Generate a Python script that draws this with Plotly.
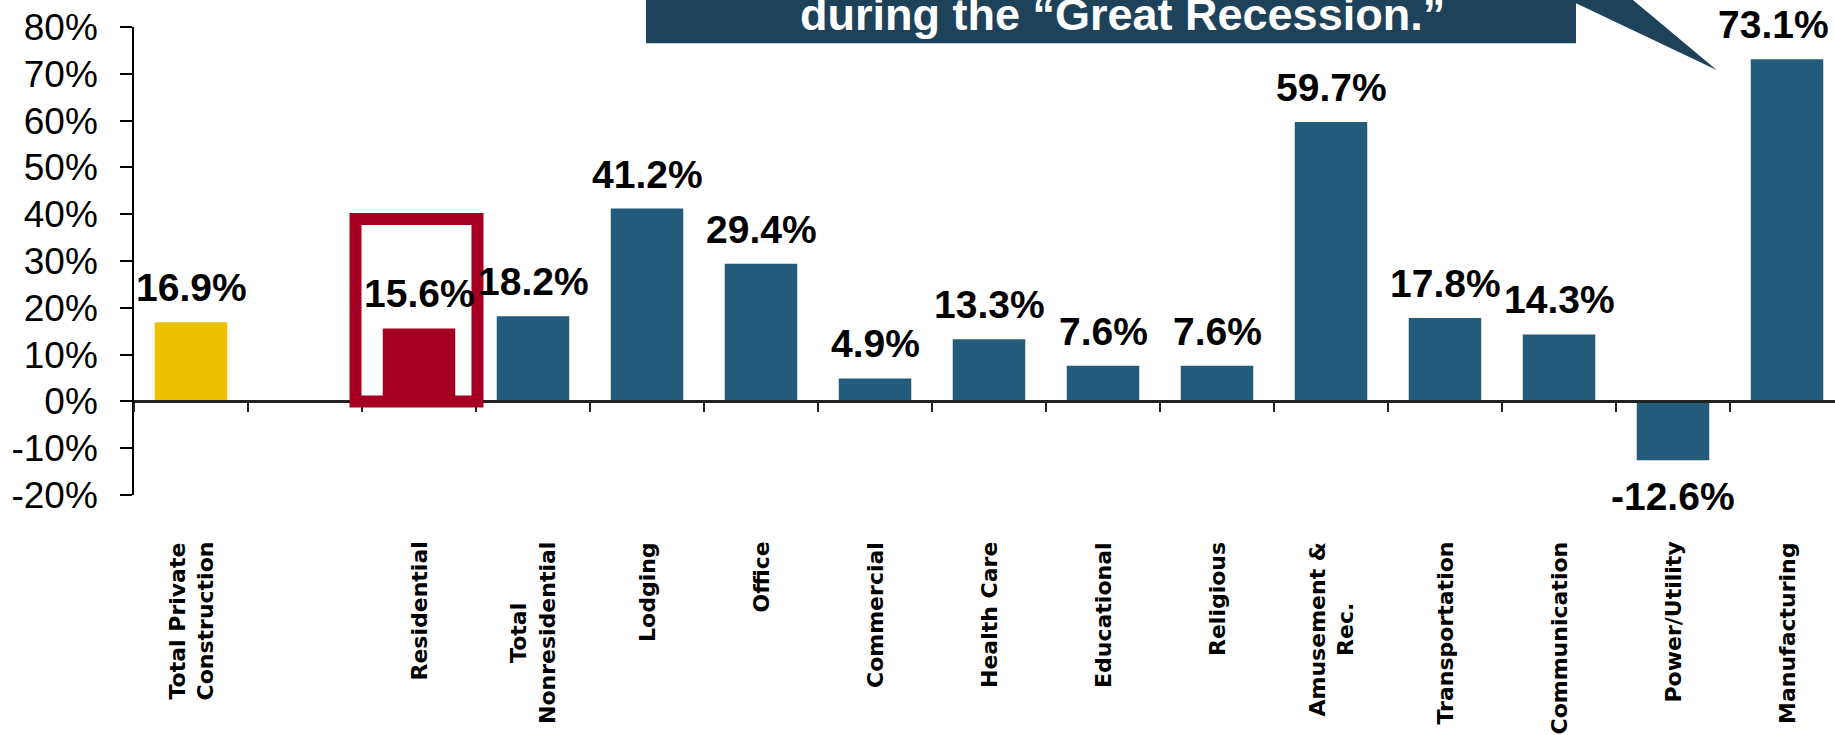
import plotly.graph_objects as go

# ── Data ──────────────────────────────────────────────────────────────────
categories = [
    "Total Private Construction", " ", "Residential", "Total Nonresidential",
    "Lodging", "Office", "Commercial", "Health Care", "Educational",
    "Religious", "Amusement & Rec.", "Transportation", "Communication",
    "Power/Utility", "Manufacturing",
]
category_labels = [
    "Total Private<br>Construction", "", "Residential", "Total<br>Nonresidential",
    "Lodging", "Office", "Commercial", "Health Care", "Educational",
    "Religious", "Amusement &<br>Rec.", "Transportation", "Communication",
    "Power/Utility", "Manufacturing",
]
pct_change = [16.9, None, 15.6, 18.2, 41.2, 29.4, 4.9, 13.3, 7.6, 7.6,
              59.7, 17.8, 14.3, -12.6, 73.1]
y_ticks = [-20, -10, 0, 10, 20, 30, 40, 50, 60, 70, 80]
callout_text = "during the \u201cGreat Recession.\u201d"

# ── Styles ────────────────────────────────────────────────────────────────
BLUE, GOLD, RED, NAVY = "#235B7A", "#EBC100", "#A50021", "#1E4259"
HIGHLIGHT = {"Total Private Construction": GOLD, "Residential": RED}
bar_colors = [HIGHLIGHT.get(c, BLUE) for c in categories]

W, H = 1835, 735
M_L, M_R, M_T, M_B = 134, 0, 27, 240
PLOT_W, PLOT_H = W - M_L - M_R, H - M_T - M_B
SLOT_PX = 114.0


def px_x(x):
    """pixel x -> paper x"""
    return (x - M_L) / PLOT_W


def px_y(y):
    """pixel y -> paper y"""
    return (H - M_B - y) / PLOT_H


fig = go.Figure(go.Bar(
    x=categories, y=pct_change,
    marker=dict(color=bar_colors, line_width=0),
    width=0.636, hoverinfo="x+y",
))

# value labels (the last one is nudged left so it stays on the slide)
for cat, val in zip(categories, pct_change):
    if val is None:
        continue
    fig.add_annotation(
        x=cat, y=val, xref="x", yref="y", text=f"{val:.1f}%", showarrow=False,
        yanchor="bottom" if val >= 0 else "top", yshift=11 if val >= 0 else -13,
        xshift=-14 if cat == categories[-1] else 0,
        font=dict(family="Liberation Sans, Arial", size=39, color="black",
                  weight="bold"),
    )

# rotated category labels under the chart
for cat, lab in zip(categories, category_labels):
    if not lab:
        continue
    fig.add_annotation(
        x=cat, y=px_y(540), xref="x", yref="paper", text=lab, showarrow=False,
        textangle=-90, yanchor="top", xanchor="center", align="center",
        font=dict(family="DejaVu Sans", size=22, color="black", weight="bold"),
    )

# red highlight frame around Residential
res_i = categories.index("Residential")
fig.add_shape(
    type="rect", xref="x", yref="y", layer="above",
    x0=res_i - 0.557, x1=res_i + 0.513, y0=0, y1=39,
    line=dict(color=RED, width=12), fillcolor="rgba(0,0,0,0)",
)

# callout box (partly cut off at the top of the slide)
rect = [(646, -20), (1576, -20), (1576, 43.3), (646, 43.3)]
tail = [(1527, -20), (1609, -20), (1716.7, 70)]
for poly in (rect, tail):
    path = "M " + " L ".join(f"{px_x(x):.5f},{px_y(y):.5f}" for x, y in poly) + " Z"
    fig.add_shape(type="path", xref="paper", yref="paper", path=path,
                  fillcolor=NAVY, line_width=0, layer="above")
fig.add_annotation(
    x=px_x(1122), y=px_y(42), xref="paper", yref="paper", text=callout_text,
    showarrow=False, xanchor="center", yanchor="bottom",
    font=dict(family="Liberation Sans, Arial", size=45, color="white",
              weight="bold"),
)

fig.update_layout(
    width=W, height=H,
    margin=dict(l=M_L, r=M_R, t=M_T, b=M_B, pad=0, autoexpand=False),
    plot_bgcolor="white", paper_bgcolor="white",
    showlegend=False,
)
fig.update_xaxes(
    type="category", range=[-0.5, -0.5 + PLOT_W / SLOT_PX],
    anchor="free", position=0.2,
    showline=True, linecolor="#222222", linewidth=2.5,
    ticks="outside", tickson="boundaries", ticklen=9, tickwidth=2,
    tickcolor="#222222", showticklabels=False, showgrid=False,
    zeroline=False, automargin=False,
)
fig.update_yaxes(
    range=[-20, 80], tickmode="array", tickvals=y_ticks,
    ticktext=[f"{v}%" for v in y_ticks],
    showline=True, linecolor="black", linewidth=1.5,
    ticks="outside", ticklen=12, tickwidth=1.5, tickcolor="black",
    ticklabelstandoff=15, ticklabeloverflow="allow",
    tickfont=dict(family="Liberation Sans, Arial", size=37, color="black"),
    showgrid=False, zeroline=False, automargin=False,
)

# drop the default 8px body margin so the figure fills the window exactly
fig.write_html("out.html", config={"displayModeBar": False},
               post_script="document.body.style.margin='0';")
